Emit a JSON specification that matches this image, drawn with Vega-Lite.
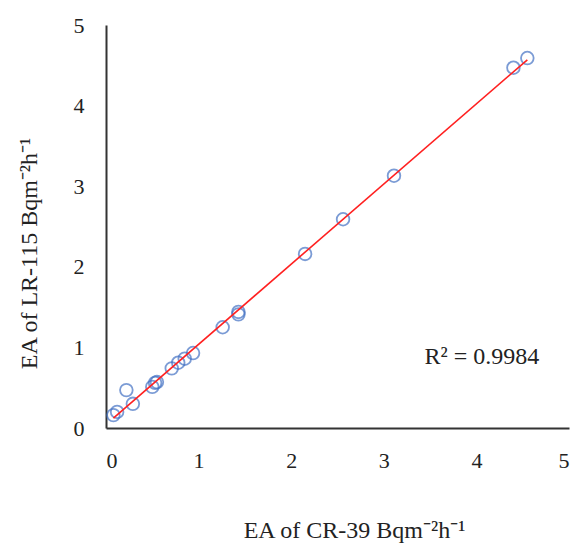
{
  "$schema": "https://vega.github.io/schema/vega-lite/v6.json",
  "width": 463,
  "height": 403,
  "autosize": {"type": "none"},
  "padding": {"left": 106, "top": 25, "right": 17, "bottom": 126},
  "background": "white",
  "config": {
    "view": {"stroke": null},
    "font": "Liberation Serif",
    "axis": {
      "grid": false,
      "ticks": false,
      "domainColor": "#333333",
      "domainWidth": 2,
      "labelFontSize": 22,
      "labelColor": "#222222",
      "titleFontSize": 24,
      "titleFontWeight": "normal",
      "titleColor": "#222222"
    }
  },
  "datasets": {
    "pts": [
      {"cr39": 0.08, "lr115": 0.16},
      {"cr39": 0.12, "lr115": 0.20},
      {"cr39": 0.22, "lr115": 0.47},
      {"cr39": 0.29, "lr115": 0.30},
      {"cr39": 0.50, "lr115": 0.51},
      {"cr39": 0.53, "lr115": 0.56},
      {"cr39": 0.55, "lr115": 0.57},
      {"cr39": 0.71, "lr115": 0.74},
      {"cr39": 0.78, "lr115": 0.81},
      {"cr39": 0.85, "lr115": 0.86},
      {"cr39": 0.94, "lr115": 0.93},
      {"cr39": 1.26, "lr115": 1.25},
      {"cr39": 1.43, "lr115": 1.44},
      {"cr39": 1.43, "lr115": 1.41},
      {"cr39": 2.15, "lr115": 2.16},
      {"cr39": 2.56, "lr115": 2.59},
      {"cr39": 3.11, "lr115": 3.13},
      {"cr39": 4.40, "lr115": 4.47},
      {"cr39": 4.55, "lr115": 4.59}
    ],
    "label": [{"x": 4.06, "y": 0.88, "text": "R² = 0.9984"}]
  },
  "layer": [
    {
      "data": {"name": "pts"},
      "mark": {"type": "point", "shape": "circle", "filled": false, "size": 160, "strokeWidth": 1.8, "color": "#4472C4"},
      "encoding": {
        "x": {
          "field": "cr39", "type": "quantitative",
          "scale": {"domain": [0, 5], "nice": false},
          "axis": {"values": [0, 1, 2, 3, 4, 5], "format": "d", "labelFont": "Liberation Serif", "labelPadding": 22, "titleFont": "Liberation Serif", "title": "EA of CR-39 Bqm⁻²h⁻¹", "titleX": 248, "titleY": 102, "titleBaseline": "middle"}
        },
        "y": {
          "field": "lr115", "type": "quantitative",
          "scale": {"domain": [0, 5], "nice": false},
          "axis": {"values": [0, 1, 2, 3, 4, 5], "format": "d", "labelFont": "Liberation Serif", "labelPadding": 22, "titleFont": "Liberation Serif", "title": "EA of LR-115 Bqm⁻²h⁻¹", "titleX": -77, "titleY": 228, "titleBaseline": "middle", "titleAngle": -90}
        }
      }
    },
    {
      "data": {"name": "pts"},
      "transform": [{"regression": "lr115", "on": "cr39"}],
      "mark": {"type": "line", "color": "#FF2020", "strokeWidth": 1.6},
      "encoding": {
        "x": {"field": "cr39", "type": "quantitative"},
        "y": {"field": "lr115", "type": "quantitative"}
      }
    },
    {
      "data": {"name": "label"},
      "mark": {"type": "text", "fontSize": 24, "font": "Liberation Serif", "color": "#222222", "align": "center", "baseline": "middle"},
      "encoding": {
        "x": {"field": "x", "type": "quantitative"},
        "y": {"field": "y", "type": "quantitative"},
        "text": {"field": "text"}
      }
    }
  ]
}
